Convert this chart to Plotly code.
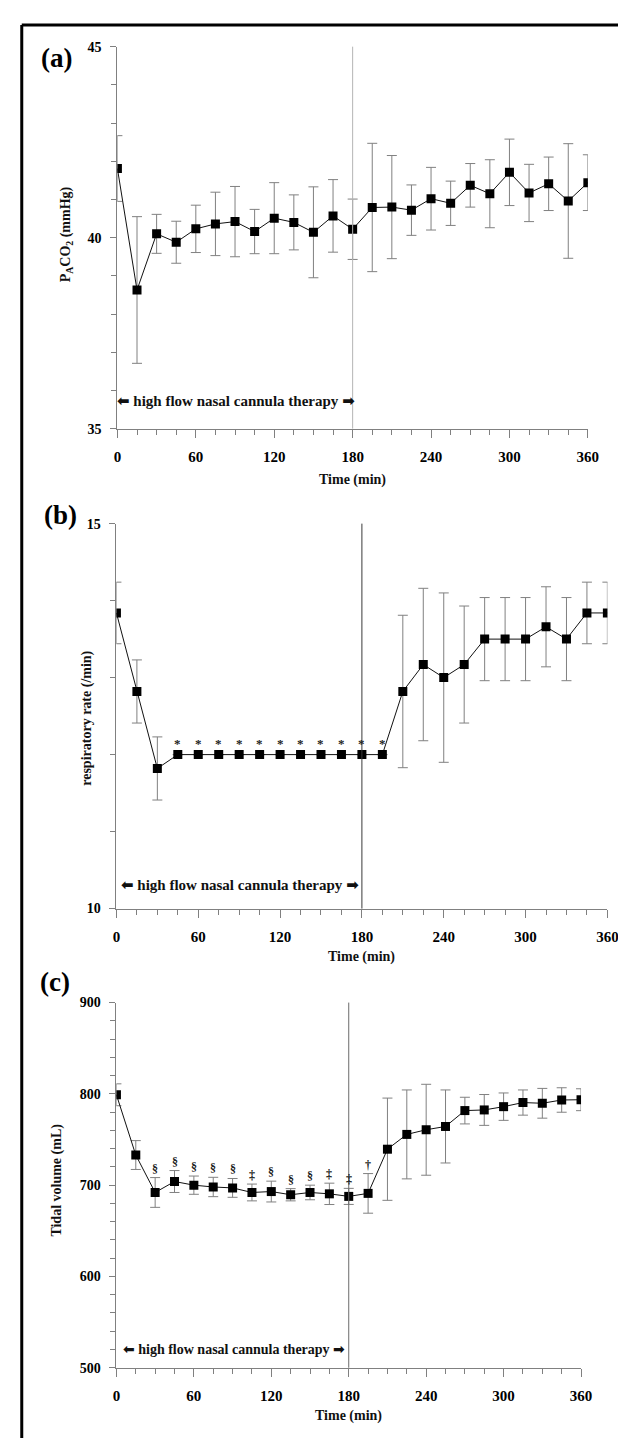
import plotly.graph_objects as go

W, H = 626, 1438

# ---------------- data ----------------
time_min = [0, 15, 30, 45, 60, 75, 90, 105, 120, 135, 150, 165, 180,
            195, 210, 225, 240, 255, 270, 285, 300, 315, 330, 345, 360]

paco2 = [41.81, 38.63, 40.10, 39.88, 40.23, 40.36, 40.42, 40.16, 40.51, 40.40, 40.14, 40.57, 40.22,
         40.79, 40.80, 40.72, 41.02, 40.90, 41.37, 41.15, 41.71, 41.17, 41.41, 40.96, 41.44]
paco2_sd = [0.86, 1.92, 0.51, 0.55, 0.62, 0.83, 0.92, 0.58, 0.93, 0.72, 1.19, 0.95, 0.79,
            1.68, 1.35, 0.66, 0.82, 0.58, 0.57, 0.89, 0.87, 0.75, 0.70, 1.50, 0.73]

resp_rate = [13.84, 12.82, 11.82, 12.0, 12.0, 12.0, 12.0, 12.0, 12.0, 12.0, 12.0, 12.0, 12.0,
             12.0, 12.82, 13.17, 13.00, 13.17, 13.50, 13.50, 13.50, 13.66, 13.50, 13.84, 13.84]
resp_rate_sd = [0.40, 0.41, 0.41, 0, 0, 0, 0, 0, 0, 0, 0, 0, 0,
                0, 0.99, 0.99, 1.10, 0.76, 0.54, 0.54, 0.54, 0.52, 0.54, 0.40, 0.40]
resp_marks = ["", "", "", "*", "*", "*", "*", "*", "*", "*", "*", "*", "*",
              "*", "", "", "", "", "", "", "", "", "", "", ""]

tidal = [799, 733, 692, 704, 700, 698, 697, 692, 693, 689.5, 692, 690.5, 687.7,
         691, 739.4, 755.6, 760.7, 764.3, 781.7, 782.4, 786, 790.5, 789.7, 793.3, 793.6]
tidal_sd = [12, 15.8, 16.3, 12, 10, 10.6, 10.3, 9.2, 11.4, 6.7, 8, 11.7, 8.8,
            21.7, 56, 48.7, 49.8, 40, 14.6, 16.9, 15, 13.8, 16.3, 13.4, 12]
tidal_marks = ["", "", "§", "§", "§", "§", "§", "‡", "§", "§", "§", "‡", "‡",
               "†", "", "", "", "", "", "", "", "", "", "", ""]

x_ticks = [0, 60, 120, 180, 240, 300, 360]
therapy_label = "high flow nasal cannula therapy"

# ---------------- geometry helpers ----------------
def px(v):
    return v / W

def py(v):
    return 1 - v / H

FONT = "Liberation Serif"
AX_COL = "#808080"
ARROW_L = "<span style='font-family:DejaVu Sans'>⬅</span>"
ARROW_R = "<span style='font-family:DejaVu Sans'>➡</span>"

panels = [
    dict(key="", data=paco2, sd=paco2_sd, marks=None,
         xdom=[px(108), px(590)], ydom=[py(418), py(32)],
         yrange=[35, 45], ydtick=5, yminor=1, vcol="#b4b4b4",
         ytitle="P<sub>A</sub>CO<sub>2</sub> (mmHg)", ytx=56, yty=222, ytsize=14,
         label="(a)", lx=46, ly=43, ann_y=35.72, ann_x=90.4, ann_size=15,
         xtitle_y=470),
    dict(key="2", data=resp_rate, sd=resp_rate_sd, marks=resp_marks,
         xdom=[px(107), px(610)], ydom=[py(903), py(514)],
         yrange=[10, 15], ydtick=5, yminor=1, vcol="#3a3a3a",
         ytitle="respiratory rate (/min)", ytx=76, yty=711, ytsize=14,
         label="(b)", lx=50, ly=505, ann_y=10.30, ann_x=90.5, ann_size=15,
         xtitle_y=952),
    dict(key="3", data=tidal, sd=tidal_sd, marks=tidal_marks,
         xdom=[px(107), px(583)], ydom=[py(1367), py(998)],
         yrange=[500, 900], ydtick=100, yminor=20, vcol="#6a6a6a",
         ytitle="Tidal volume (mL)", ytx=46, yty=1177, ytsize=14,
         label="(c)", lx=44, ly=977, ann_y=520.6, ann_x=90.8, ann_size=14,
         xtitle_y=1416),
]

fig = go.Figure()
annotations = []
shapes = []

for p in panels:
    k = p["key"]
    xa = "x" + k
    ya = "y" + k
    fig.add_trace(go.Scatter(
        x=time_min, y=p["data"], mode="lines+markers",
        xaxis=xa, yaxis=ya,
        line=dict(color="#111111", width=1),
        marker=dict(symbol="square", size=9, color="#000000"),
        error_y=dict(type="data", array=p["sd"], visible=True,
                     color=AX_COL, thickness=1, width=5),
        showlegend=False, hoverinfo="skip",
    ))

    axis_x = dict(
        domain=p["xdom"], range=[0, 360], anchor=ya,
        tickmode="array", tickvals=x_ticks, ticktext=[str(v) for v in x_ticks],
        ticks="outside", ticklen=8, tickwidth=1, tickcolor=AX_COL,
        showline=True, linecolor=AX_COL, linewidth=1,
        showgrid=False, zeroline=False,
        tickfont=dict(family=FONT, size=15, color="#000", weight="bold"),
        ticklabelstandoff=6,
        minor=dict(dtick=15, tick0=0, ticks="outside", ticklen=5,
                   tickcolor=AX_COL, tickwidth=1, showgrid=False),
        fixedrange=True,
    )
    axis_y = dict(
        domain=p["ydom"], range=p["yrange"], anchor=xa,
        dtick=p["ydtick"], tick0=p["yrange"][0],
        ticks="outside", ticklen=6, tickwidth=1, tickcolor=AX_COL,
        showline=True, linecolor=AX_COL, linewidth=1,
        showgrid=False, zeroline=False,
        tickfont=dict(family=FONT, size=14, color="#000", weight="bold"),
        ticklabelstandoff=6,
        minor=dict(dtick=p["yminor"], ticks="outside", ticklen=5,
                   tickcolor=AX_COL, tickwidth=1, showgrid=False),
        fixedrange=True,
    )
    fig.update_layout(**{"xaxis" + k: axis_x, "yaxis" + k: axis_y})

    # vertical line at 180 min
    shapes.append(dict(type="line", xref=xa, yref=ya + " domain",
                       x0=180, x1=180, y0=0, y1=1,
                       line=dict(color=p["vcol"], width=1)))

    # therapy annotation with arrows
    annotations.append(dict(xref=xa, yref=ya, x=p["ann_x"], y=p["ann_y"],
                            text=ARROW_L + " " + therapy_label + " " + ARROW_R,
                            showarrow=False,
                            font=dict(family=FONT, size=p["ann_size"], color="#111", weight="bold"),
                            xanchor="center", yanchor="middle"))

    # significance marks
    if p["marks"] is not None:
        for t, v, s, m in zip(time_min, p["data"], p["sd"], p["marks"]):
            if m:
                annotations.append(dict(xref=xa, yref=ya, x=t, y=v + s,
                                        text=m, showarrow=False,
                                        yshift=11 if m == "*" else 9,
                                        font=dict(family=FONT, size=13 if m == "*" else 12,
                                                  color="#222", weight="bold"),
                                        xanchor="center", yanchor="middle"))

    # axis titles
    annotations.append(dict(xref="paper", yref="paper",
                            x=(p["xdom"][0] + p["xdom"][1]) / 2, y=py(p["xtitle_y"]),
                            text="Time (min)", showarrow=False,
                            font=dict(family=FONT, size=14, color="#111", weight="bold"),
                            xanchor="center", yanchor="middle"))
    annotations.append(dict(xref="paper", yref="paper",
                            x=px(p["ytx"]), y=py(p["yty"]),
                            text=p["ytitle"], showarrow=False, textangle=-90,
                            font=dict(family=FONT, size=p["ytsize"], color="#111", weight="bold"),
                            xanchor="center", yanchor="middle"))
    # panel label
    annotations.append(dict(xref="paper", yref="paper",
                            x=px(p["lx"]), y=py(p["ly"]),
                            text=p["label"], showarrow=False,
                            font=dict(family=FONT, size=27, color="#000", weight="bold"),
                            xanchor="center", yanchor="middle"))

# outer frame (top and left edges)
shapes.append(dict(type="line", xref="paper", yref="paper",
                   x0=px(10), x1=1.0, y0=py(10), y1=py(10),
                   line=dict(color="#000", width=3)))
shapes.append(dict(type="line", xref="paper", yref="paper",
                   x0=px(10), x1=px(10), y0=py(10), y1=0.0,
                   line=dict(color="#000", width=3)))

fig.update_layout(
    width=W, height=H,
    margin=dict(l=0, r=0, t=0, b=0),
    paper_bgcolor="white", plot_bgcolor="white",
    annotations=annotations, shapes=shapes,
    showlegend=False,
)

fig.write_html("out.html")
